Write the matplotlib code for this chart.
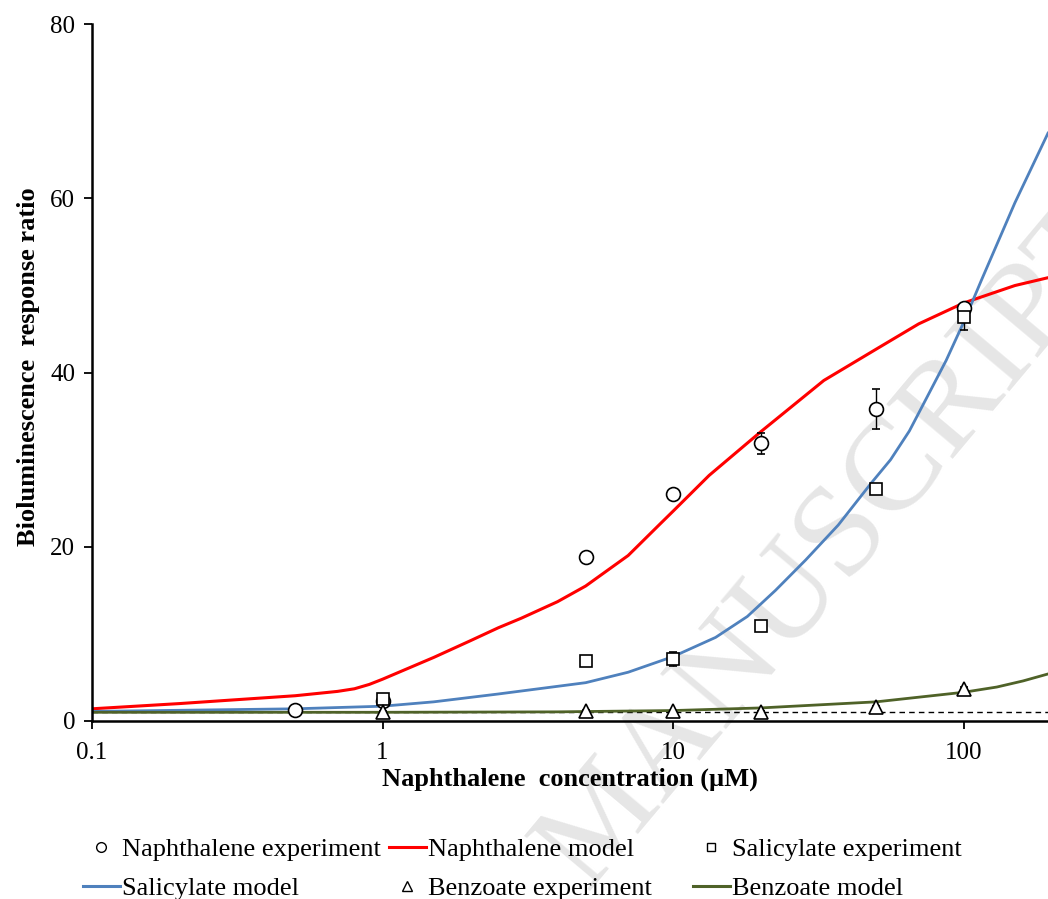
import numpy as np
import matplotlib.pyplot as plt
from matplotlib.lines import Line2D

plt.rcParams['font.family'] = ['Liberation Serif', 'DejaVu Serif']

# Experimental data (concentration in uM, response ratio, error)
naph_x = [0.5, 1, 5, 10, 20, 50, 100]
naph_y = [1.3, 2.3, 18.8, 26.1, 31.9, 35.8, 47.4]
naph_err = [0.2, 0.2, 0.3, 0.3, 1.2, 2.3, 0.6]

sal_x = [1, 5, 10, 20, 50, 100]
sal_y = [2.5, 6.9, 7.1, 10.9, 26.6, 46.4]
sal_err = [0.2, 0.2, 0.8, 0.5, 0.3, 1.5]

benz_x = [1, 5, 10, 20, 50, 100]
benz_y = [1.0, 1.2, 1.1, 1.0, 1.6, 3.7]
benz_err = [0.1, 0.1, 0.1, 0.1, 0.1, 0.2]

# Model curves
naph_mx = [0.1, 0.2, 0.3, 0.5, 0.7, 0.8, 0.9, 1, 1.5, 2, 2.5, 3, 4, 5, 7, 9, 10,
           13.3, 20, 33, 50, 70, 100, 150, 195]
naph_my = [1.4, 2.0, 2.4, 2.9, 3.4, 3.7, 4.2, 4.8, 7.3, 9.2, 10.7, 11.8, 13.7, 15.5,
           19.0, 22.6, 24.1, 28.2, 33.2, 39.1, 42.7, 45.6, 48.0, 50.0, 50.9]

sal_mx = [0.1, 0.5, 1, 1.5, 2.5, 5, 7, 10, 14, 18, 22.5, 28.6, 37, 48, 56, 65, 74,
          87, 100, 115, 150, 195]
sal_my = [1.1, 1.4, 1.7, 2.2, 3.1, 4.4, 5.6, 7.4, 9.6, 12.0, 15.0, 18.5, 22.5, 27.3,
          30.0, 33.3, 36.9, 41.4, 45.8, 50.6, 59.5, 67.5]

benz_mx = [0.1, 1, 4, 10, 20, 50, 100, 130, 160, 195]
benz_my = [1.0, 1.0, 1.05, 1.2, 1.5, 2.2, 3.3, 3.9, 4.6, 5.4]

fig = plt.figure(figsize=(10.48, 8.99), dpi=100)
ax = fig.add_axes([0.0878, 0.198, 0.9122, 0.775])
ax.patch.set_alpha(0)

# faint watermark behind the plot
fig.text(0.797, 0.394, 'MANUSCRIPT', rotation=50, fontsize=95, color='#e6e6e6',
         ha='center', va='center', zorder=-5)

ax.axhline(1, color='black', lw=1, ls=(0, (4, 3)), zorder=1)

ax.plot(naph_mx, naph_my, color='#ff0000', lw=2.2, zorder=2)
ax.plot(sal_mx, sal_my, color='#4f81bd', lw=2.0, zorder=2)
ax.plot(benz_mx, benz_my, color='#4f6228', lw=2.0, zorder=2)

kw = dict(ls='none', mfc='white', mec='black', mew=1.2, ecolor='black',
          elinewidth=1, capsize=3, capthick=1, zorder=3)
ax.errorbar(naph_x, naph_y, yerr=naph_err, marker='o', ms=10, **kw)
ax.errorbar(sal_x, sal_y, yerr=sal_err, marker='s', ms=9, **kw)
ax.errorbar(benz_x, benz_y, yerr=benz_err, marker='^', ms=10, **kw)

ax.set_xscale('log')
ax.set_xlim(0.1, 195)
ax.set_ylim(0, 80)
ax.set_xticks([0.1, 1, 10, 100])
ax.set_xticklabels(['0.1', '1', '10', '100'])
ax.xaxis.set_minor_locator(plt.NullLocator())
ax.set_yticks([0, 20, 40, 60, 80])
ax.spines['top'].set_visible(False)
ax.spines['right'].set_visible(False)
for s in ['left', 'bottom']:
    ax.spines[s].set_linewidth(1.8)
ax.tick_params(axis='both', direction='out', length=6, width=1.3, labelsize=18, pad=6)
ax.tick_params(axis='x', pad=9)
ax.set_xlabel('Naphthalene  concentration (\u00b5M)', fontsize=19, fontweight='bold', labelpad=3)
ax.set_ylabel('Bioluminescence  response ratio', fontsize=19, fontweight='bold')
ax.yaxis.set_label_coords(-0.054, 0.508)

mk = dict(ls='none', mfc='white', mec='black', mew=1)
col1 = ([Line2D([], [], marker='o', ms=7, **mk), Line2D([], [], color='#4f81bd', lw=2.2)],
        ['Naphthalene experiment', 'Salicylate model'], 0.079)
col2 = ([Line2D([], [], color='#ff0000', lw=2.2), Line2D([], [], marker='^', ms=7, **mk)],
        ['Naphthalene model', 'Benzoate experiment'], 0.371)
col3 = ([Line2D([], [], marker='s', ms=6, **mk), Line2D([], [], color='#4f6228', lw=2.2)],
        ['Salicylate experiment', 'Benzoate model'], 0.661)
for hs, ls, xpos in [col1, col2, col3]:
    fig.legend(hs, ls, loc='upper left', bbox_to_anchor=(xpos, 0.068),
               frameon=False, fontsize=19, handlelength=1.4, handletextpad=0.1,
               borderpad=0, borderaxespad=0, labelspacing=0.57)

fig.savefig('out.png', dpi=100)
